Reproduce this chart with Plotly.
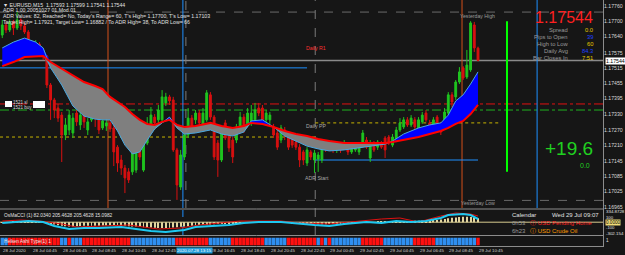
import plotly.graph_objects as go

W, H = 625, 255
FONT = "Liberation Sans, Arial, sans-serif"

# ---------------- data ----------------
bars = list(range(129))   # 15-minute bars, bar 0 = 28 Jul 02:45
opens = [1.17645, 1.17685, 1.17665, 1.17697, 1.17673, 1.17705, 1.17681, 1.17657, 1.17586, 1.17602,
         1.17609, 1.17586, 1.17562, 1.17447, 1.17388, 1.17356, 1.17328, 1.17249, 1.17269, 1.17257,
         1.17336, 1.17289, 1.17328, 1.17269, 1.17309, 1.17356, 1.17328, 1.17277, 1.17285, 1.17297,
         1.17277, 1.17201, 1.17150, 1.17118, 1.17103, 1.17103, 1.17110, 1.17209, 1.17110, 1.17217,
         1.17269, 1.17320, 1.17309, 1.17309, 1.17376, 1.17400, 1.17388, 1.17190, 1.17043, 1.17162,
         1.17249, 1.17316, 1.17309, 1.17336, 1.17289, 1.17309, 1.17408, 1.17320, 1.17217, 1.17150,
         1.17297, 1.17257, 1.17229, 1.17229, 1.17269, 1.17320, 1.17293, 1.17297, 1.17309, 1.17356,
         1.17356, 1.17309, 1.17309, 1.17281, 1.17257, 1.17229, 1.17269, 1.17241, 1.17237, 1.17221,
         1.17201, 1.17182, 1.17138, 1.17182, 1.17150, 1.17154, 1.17150, 1.17217, 1.17198, 1.17201,
         1.17190, 1.17209, 1.17198, 1.17201, 1.17182, 1.17190, 1.17182, 1.17209, 1.17229, 1.17158,
         1.17217, 1.17201, 1.17217, 1.17237, 1.17241, 1.17209, 1.17229, 1.17269, 1.17281, 1.17309,
         1.17289, 1.17309, 1.17277, 1.17301, 1.17336, 1.17297, 1.17289, 1.17320, 1.17289, 1.17301,
         1.17336, 1.17408, 1.17400, 1.17459, 1.17515, 1.17479, 1.17507, 1.17685, 1.17593]
highs = [1.17705, 1.17697, 1.17707, 1.17705, 1.17736, 1.17711, 1.17697, 1.17665, 1.17609, 1.17625,
         1.17617, 1.17594, 1.17566, 1.17455, 1.17396, 1.17372, 1.17340, 1.17316, 1.17348, 1.17336,
         1.17348, 1.17348, 1.17340, 1.17316, 1.17376, 1.17368, 1.17340, 1.17328, 1.17316, 1.17312,
         1.17289, 1.17209, 1.17170, 1.17130, 1.17118, 1.17190, 1.17229, 1.17217, 1.17229, 1.17320,
         1.17360, 1.17332, 1.17368, 1.17427, 1.17416, 1.17408, 1.17400, 1.17198, 1.17190, 1.17269,
         1.17356, 1.17328, 1.17348, 1.17348, 1.17356, 1.17427, 1.17419, 1.17328, 1.17229, 1.17277,
         1.17309, 1.17269, 1.17241, 1.17293, 1.17340, 1.17332, 1.17356, 1.17368, 1.17376, 1.17376,
         1.17368, 1.17348, 1.17340, 1.17293, 1.17269, 1.17289, 1.17281, 1.17253, 1.17249, 1.17229,
         1.17213, 1.17190, 1.17201, 1.17190, 1.17190, 1.17182, 1.17229, 1.17229, 1.17229, 1.17209,
         1.17217, 1.17217, 1.17229, 1.17209, 1.17209, 1.17217, 1.17209, 1.17269, 1.17241, 1.17229,
         1.17225, 1.17229, 1.17225, 1.17245, 1.17249, 1.17253, 1.17281, 1.17316, 1.17320, 1.17320,
         1.17328, 1.17320, 1.17320, 1.17340, 1.17348, 1.17309, 1.17320, 1.17328, 1.17301, 1.17356,
         1.17419, 1.17419, 1.17467, 1.17518, 1.17522, 1.17586, 1.17700, 1.17697, 1.17599]
lows = [1.17633, 1.17653, 1.17657, 1.17645, 1.17665, 1.17665, 1.17649, 1.17578, 1.17566, 1.17578,
        1.17574, 1.17546, 1.17435, 1.17309, 1.17316, 1.17301, 1.17142, 1.17229, 1.17249, 1.17237,
        1.17285, 1.17269, 1.17277, 1.17249, 1.17301, 1.17281, 1.17253, 1.17269, 1.17265, 1.17261,
        1.17126, 1.17103, 1.17091, 1.17019, 1.17059, 1.17091, 1.17099, 1.17150, 1.17103, 1.17209,
        1.17257, 1.17269, 1.17289, 1.17301, 1.17364, 1.17368, 1.17182, 1.16992, 1.17031, 1.17150,
        1.17237, 1.17269, 1.17293, 1.17281, 1.17269, 1.17301, 1.17309, 1.17150, 1.17083, 1.17142,
        1.17229, 1.17182, 1.17138, 1.17217, 1.17257, 1.17257, 1.17281, 1.17285, 1.17301, 1.17324,
        1.17301, 1.17293, 1.17293, 1.17237, 1.17190, 1.17217, 1.17229, 1.17190, 1.17198, 1.17190,
        1.17122, 1.17130, 1.17126, 1.17150, 1.17099, 1.17103, 1.17138, 1.17182, 1.17190, 1.17178,
        1.17178, 1.17178, 1.17190, 1.17170, 1.17174, 1.17182, 1.17170, 1.17201, 1.17194, 1.17142,
        1.17182, 1.17190, 1.17194, 1.17158, 1.17209, 1.17201, 1.17221, 1.17261, 1.17273, 1.17281,
        1.17281, 1.17273, 1.17269, 1.17293, 1.17301, 1.17269, 1.17281, 1.17269, 1.17249, 1.17293,
        1.17328, 1.17360, 1.17388, 1.17451, 1.17467, 1.17471, 1.17499, 1.17578, 1.17541]
closes = [1.17685, 1.17665, 1.17697, 1.17673, 1.17705, 1.17681, 1.17657, 1.17586, 1.17602, 1.17609,
          1.17586, 1.17562, 1.17447, 1.17388, 1.17348, 1.17316, 1.17249, 1.17289, 1.17328, 1.17316,
          1.17301, 1.17328, 1.17301, 1.17301, 1.17356, 1.17320, 1.17269, 1.17305, 1.17297, 1.17273,
          1.17182, 1.17138, 1.17118, 1.17079, 1.17071, 1.17178, 1.17209, 1.17162, 1.17217, 1.17257,
          1.17328, 1.17297, 1.17348, 1.17400, 1.17400, 1.17384, 1.17190, 1.17051, 1.17170, 1.17249,
          1.17316, 1.17281, 1.17336, 1.17297, 1.17336, 1.17416, 1.17320, 1.17162, 1.17150, 1.17257,
          1.17237, 1.17198, 1.17162, 1.17281, 1.17320, 1.17269, 1.17336, 1.17336, 1.17348, 1.17336,
          1.17309, 1.17336, 1.17328, 1.17249, 1.17201, 1.17277, 1.17249, 1.17201, 1.17209, 1.17201,
          1.17150, 1.17150, 1.17190, 1.17162, 1.17178, 1.17170, 1.17217, 1.17198, 1.17221, 1.17190,
          1.17209, 1.17190, 1.17217, 1.17182, 1.17201, 1.17209, 1.17201, 1.17257, 1.17201, 1.17217,
          1.17190, 1.17221, 1.17201, 1.17190, 1.17217, 1.17241, 1.17269, 1.17297, 1.17309, 1.17289,
          1.17316, 1.17281, 1.17309, 1.17328, 1.17309, 1.17277, 1.17309, 1.17281, 1.17261, 1.17340,
          1.17408, 1.17380, 1.17459, 1.17499, 1.17475, 1.17526, 1.17693, 1.17594, 1.17544]

# cloud indicator (fast / slow lines) read at sample bars
cloud_bars = [0, 3, 6, 9, 11, 13, 16, 19, 22, 25, 27, 29, 31, 33, 35, 37, 39, 41, 43, 45, 47, 49, 52, 56, 59,
              62, 65, 67, 70, 73, 76, 79, 82, 85, 88, 92, 96, 100, 103, 105, 108, 112, 115, 118, 120, 122,
              124, 126, 128]
slow_line = [1.17522, 1.17538, 1.17558, 1.17560, 1.17562, 1.17538, 1.17511, 1.17487, 1.17459, 1.17443,
             1.17431, 1.17400, 1.17380, 1.17360, 1.17332, 1.17309, 1.17293, 1.17289, 1.17301, 1.17309,
             1.17289, 1.17281, 1.17285, 1.17297, 1.17285, 1.17277, 1.17285, 1.17297, 1.17293, 1.17281,
             1.17265, 1.17253, 1.17245, 1.17233, 1.17225, 1.17217, 1.17217, 1.17217, 1.17217, 1.17221,
             1.17229, 1.17241, 1.17253, 1.17265, 1.17277, 1.17293, 1.17305, 1.17332, 1.17368]
fast_line = [1.17594, 1.17617, 1.17633, 1.17617, 1.17594, 1.17515, 1.17447, 1.17364, 1.17324, 1.17312,
             1.17309, 1.17309, 1.17265, 1.17209, 1.17174, 1.17182, 1.17229, 1.17273, 1.17297, 1.17320,
             1.17277, 1.17253, 1.17257, 1.17269, 1.17253, 1.17245, 1.17261, 1.17305, 1.17309, 1.17281,
             1.17245, 1.17225, 1.17205, 1.17194, 1.17186, 1.17190, 1.17198, 1.17205, 1.17213, 1.17225,
             1.17253, 1.17277, 1.17289, 1.17297, 1.17328, 1.17384, 1.17408, 1.17451, 1.17499]

# OsMA / CCI sub-window
cci_bars = [0, 5, 7, 11, 14, 18, 22, 26, 32, 36, 40, 44, 49, 52, 56, 61, 65, 69, 75, 80, 84, 88, 92,
            98, 102, 106, 110, 114, 118, 120, 124, 126, 128]
cci_main = [-21, 5, 31, 5, -99, -177, -151, -151, -125, -177, -229, -255, -203, -125, -99, -73, -21, 5,
            5, -47, -73, -99, -47, 5, -21, 31, 5, 31, 109, 187, 213, 187, 83]
sig_bars = [0, 5, 10, 16, 20, 26, 34, 42, 48, 53, 64, 75, 80, 88, 96, 102, 107, 112, 118, 122, 126, 128]
cci_signal = [31, 57, 31, -47, -125, -99, -73, -177, -151, -73, 31, 31, -21, -47, 31, 83, 109, 5, 161,
              239, 213, 161]
osma_hist = [-10, -5, 5, 10, 15, 15, 20, 20, 15, 10,
             5, 0, -20, -40, -60, -80, -95, -105, -110, -110,
             -105, -100, -95, -90, -90, -90, -90, -85, -85, -80,
             -80, -80, -85, -95, -105, -110, -115, -120, -130, -135,
             -140, -145, -150, -150, -150, -145, -140, -130, -120, -115,
             -105, -95, -85, -75, -70, -65, -60, -55, -50, -45,
             -40, -35, -30, -25, -20, -15, -10, -5, 0, 5,
             5, 5, 5, 0, -5, -10, -15, -20, -25, -30,
             -35, -40, -45, -50, -55, -55, -55, -55, -50, -45,
             -40, -35, -30, -25, -20, -15, -10, -5, 0, 5,
             5, 10, 10, 15, 15, 20, 20, 25, 25, 30,
             30, 35, 35, 40, 45, 50, 55, 60, 70, 85,
             100, 115, 125, 135, 140, 140, 135, 125, 100]

# Heiken Ashi direction per bar (b = bullish, r = bearish)
ha_dir = ("bb" + "r" * 14 + "bb" + "r" + "bbb" + "r" * 13 + "b" * 12 + "r" * 9 + "b" * 6 + "r" * 9
          + "b" * 6 + "r" * 8 + "brbrb" + "b" * 7 + "r" * 6 + "b" * 8 + "r" * 6 + "b" * 11 + "r")

# levels
yesterday_high = 1.17736
yesterday_low = 1.16990
bid = 1.17544
adr_line_prev = 1.17515
adr_line_today = 1.17150
sl_level = 1.17372
buy_level = 1.17348
pivot_prev = 1.17241
daily_pp = 1.17297
today_high = 1.17700
today_low = 1.17103
day_start_bar = 84.2
event_bars_orange = [28.45, 123.7]
event_bars_blue = [48.6, 143.9]
crosshair_bar = 49.4
range_bar = 135.8

price_ticks = [1.17760, 1.17700, 1.17640, 1.17575, 1.17515, 1.17455, 1.17395, 1.17330, 1.17270,
               1.17210, 1.17145, 1.17085, 1.17025, 1.16965]
time_label_bars = [0, 8, 16, 24, 32, 40, 56, 64, 72, 80, 88, 96, 104, 112, 120, 128]
time_labels = ["28 Jul 2020", "28 Jul 04:45", "28 Jul 06:45", "28 Jul 08:45", "28 Jul 10:45",
               "28 Jul 12:45", "28 Jul 16:45", "28 Jul 18:45", "28 Jul 20:45", "28 Jul 22:45",
               "29 Jul 00:45", "29 Jul 02:45", "29 Jul 04:45", "29 Jul 06:45", "29 Jul 08:45",
               "29 Jul 10:45"]

# ---------------- figure ----------------
def px(x):
    return x / W


def py(y):
    return 1 - y / H


XDOM = [0, 603 / W]
BG = "#161616"

fig = go.Figure()

lo = [min(f, s) for f, s in zip(fast_line, slow_line)]
hi = [max(f, s) for f, s in zip(fast_line, slow_line)]
common = dict(mode="lines", showlegend=False, hoverinfo="skip")
fig.add_trace(go.Scatter(x=cloud_bars, y=slow_line, line=dict(width=0, color="#7f7f7f"), **common))
fig.add_trace(go.Scatter(x=cloud_bars, y=lo, line=dict(width=0, color="#7f7f7f"), fill="tonexty",
                         fillcolor="#7f7f7f", **common))
fig.add_trace(go.Scatter(x=cloud_bars, y=slow_line, line=dict(width=0, color="#0000ff"), **common))
fig.add_trace(go.Scatter(x=cloud_bars, y=hi, line=dict(width=0, color="#0000ff"), fill="tonexty",
                         fillcolor="#0000ff", **common))
fig.add_trace(go.Scatter(x=cloud_bars, y=fast_line, line=dict(width=1, color="#4aa8e0"), **common))
fig.add_trace(go.Scatter(x=cloud_bars, y=slow_line, line=dict(width=2, color="#ff0000"), **common))

fig.add_trace(go.Candlestick(
    x=bars, open=opens, high=highs, low=lows, close=closes,
    increasing=dict(line=dict(color="#1fc41f", width=1), fillcolor="#1fc41f"),
    decreasing=dict(line=dict(color="#d81010", width=1), fillcolor="#d81010"),
    showlegend=False, hoverinfo="skip", whiskerwidth=0))

# sub-window 1: OsMA CCI
fig.add_trace(go.Bar(x=bars, y=osma_hist, width=0.25, marker=dict(color="#e2d6a0", line=dict(width=0)),
                     xaxis="x2", yaxis="y2", showlegend=False, hoverinfo="skip"))
fig.add_trace(go.Scatter(x=sig_bars, y=cci_signal, line=dict(width=1, color="#e01010"),
                         xaxis="x2", yaxis="y2", **common))
fig.add_trace(go.Scatter(x=cci_bars, y=cci_main, line=dict(width=2, color="#1ec8f0"),
                         xaxis="x2", yaxis="y2", **common))

# sub-window 2: Heiken Ashi strip
ha_colors = ["#2f8ff0" if c == "b" else "#ff1010" for c in ha_dir]
fig.add_trace(go.Bar(x=bars, y=[1] * len(bars), width=0.92, marker=dict(color=ha_colors, line=dict(width=0)),
                     xaxis="x3", yaxis="y3", showlegend=False, hoverinfo="skip"))

shapes = []


def hline(yv, x0=None, x1=None, color="#888", width=1, dash="solid", yref="y"):
    if x0 is None:
        shapes.append(dict(type="line", xref="paper", x0=XDOM[0], x1=XDOM[1], yref=yref, y0=yv, y1=yv,
                           line=dict(color=color, width=width, dash=dash), layer="below"))
    else:
        shapes.append(dict(type="line", xref="x", x0=x0, x1=x1, yref=yref, y0=yv, y1=yv,
                           line=dict(color=color, width=width, dash=dash), layer="below"))


def vline(xv, ytop, ybot, color, width=1, dash="solid", layer="below"):
    shapes.append(dict(type="line", xref="x", x0=xv, x1=xv, yref="paper", y0=py(ybot), y1=py(ytop),
                       line=dict(color=color, width=width, dash=dash), layer=layer))


hline(yesterday_high, color="#6a6a6a", dash="dash")
hline(yesterday_low, color="#6a6a6a", dash="dash")
hline(sl_level, color="#e01010", dash="dashdot")
hline(buy_level, color="#20b020", dash="dashdot")
hline(pivot_prev, -0.6, day_start_bar, color="#c8b400", dash="dot")
hline(daily_pp, day_start_bar, 134, color="#c8b400", dash="dot")
hline(adr_line_prev, -0.6, 82, color="#1e90ff", width=1)
hline(adr_line_today, day_start_bar, 128, color="#1e90ff", width=1)
hline(bid, color="#8a8a8a", width=1.5)

for b in event_bars_orange:
    vline(b, 0, 208, "#d4501a", 1)
vline(event_bars_blue[0], 0, 208, "#1e90ff", 1)
vline(event_bars_blue[0], 210, 235, "#1e90ff", 1, "dash")
vline(event_bars_blue[1], 0, 208, "#1e90ff", 1)
vline(crosshair_bar, 0, 208, "#7a7a7a", 1, "dash")
vline(day_start_bar, 0, 235, "#7a7a7a", 1, "dash")
shapes.append(dict(type="line", xref="x", x0=range_bar, x1=range_bar, yref="y", y0=today_low, y1=today_high,
                   line=dict(color="#00ff00", width=2)))

# CCI zero line
hline(0, color="#d8cc90", width=1, yref="y2")

# window separators / borders
for yy in (209, 235.5, 246.5):
    shapes.append(dict(type="line", xref="paper", x0=0, x1=px(604), yref="paper", y0=py(yy), y1=py(yy),
                       line=dict(color="#8c8c8c", width=1)))
shapes.append(dict(type="line", xref="paper", x0=px(603.5), x1=px(603.5), yref="paper", y0=py(247), y1=1,
                   line=dict(color="#8c8c8c", width=1)))

# trade label boxes at left
shapes.append(dict(type="rect", xref="paper", yref="paper", x0=px(5), x1=px(12), y0=py(107), y1=py(101),
                   fillcolor="#ffffff", line=dict(width=0)))
shapes.append(dict(type="rect", xref="paper", yref="paper", x0=px(33), x1=px(45), y0=py(108), y1=py(101),
                   fillcolor="#ffffff", line=dict(width=0)))

annotations = []


def txt(x, y, s, size=5.2, color="#e0e0e0", anchor="left", bg=None, xref="paper"):
    a = dict(x=px(x) if xref == "paper" else x, y=py(y), xref=xref, yref="paper", text=s, showarrow=False,
             xanchor=anchor, yanchor="middle", font=dict(family=FONT, size=size, color=color),
             borderpad=0)
    if bg:
        a["bgcolor"] = bg
    annotations.append(a)


# header texts
txt(2, 4.7, "▼ EURUSD,M15  1.17593 1.17599 1.17541 1.17544")
txt(2, 10.5, "ADR 1.00 20051027 01.Mod.01")
txt(2, 16, "ADR Values: 82, Reached= No, Today's Range= 60, T's High= 1.17700, T's Low= 1.17103")
txt(2, 21.5, "Target High= 1.17921, Target Low= 1.16882 / To ADR High= 38, To ADR Low= 66")

# level labels
txt(496, 16, "Yesterday High", 5.2, "#9a9a9a", "right")
txt(496, 203, "Yesterday Low", 5.2, "#9a9a9a", "right")
txt(305, 48, "Daily R1", 5.2, "#ff3030")
txt(305, 126, "Daily PP", 5.2, "#a8a8a8")
txt(304, 177.5, "ADR Start", 5.2, "#a8a8a8")
txt(12, 102, "1521 sl", 4.5, "#d8d8d8")
txt(12, 107, "1521 buy", 4.5, "#d8d8d8")

# info panel
txt(594, 17.5, "1.17544", 16, "#ff2020", "right")
rows = [("Spread", "0.0", "#e6c800"), ("Pips to Open", "39", "#2040ff"), ("High to Low", "60", "#e6c800"),
        ("Daily Avg", "84.3", "#2040ff"), ("Bar Closes In", "7:51", "#e6c800")]
for k, (lab, val, col) in enumerate(rows):
    yy = 29.5 + k * 7.2
    txt(569, yy, lab, 5.8, "#9a9a9a", "right")
    txt(594, yy, val, 5.8, col, "right")
txt(594, 148, "+19.6", 19, "#20d020", "right")
txt(591, 165, "0.0", 7, "#20d020", "right")

# calendar panel
txt(511, 215, "Calendar", 6, "#e0e0e0")
txt(600, 215, "Wed 29 Jul 09:07", 6, "#e0e0e0", "right")
txt(511, 223, "0h53", 6, "#9a9a9a")
txt(529, 223, "ⓘ USD Pending Home", 6, "#ff2020")
txt(511, 231, "6h23", 6, "#9a9a9a")
txt(529, 231, "ⓘ USD Crude Oil", 6, "#ff9a00")

# sub-window titles
txt(3, 215, "OsMaCCI (1) 82.0340 205.4628 205.4628 15.0982", 4.8, "#e0e0e0")
txt(3, 241, "Heiken Ashi Type(1) 1", 4.8, "#e8e8e8")

# axis boxes on the right
txt(605, 61, "1.17544", 5.2, "#000000", "left", "#ffffff")
txt(605, 211.5, "334.8728", 4.4, "#e0e0e0")
txt(605, 217, "100", 4.2, "#e0e0e0")
txt(605, 222.4, "0.0000", 4.6, "#000000", "left", "#f0dc78")
txt(605, 227.8, "-100", 4.2, "#e0e0e0")
txt(605, 233, "-302.154", 4.4, "#e0e0e0")
txt(605, 240.5, "1", 4.6, "#e0e0e0")

# time axis labels
for b, s in zip(time_label_bars, time_labels):
    txt(b, 250.5, s, 4.4, "#d0d0d0", "left", xref="x")
txt(194, 250.5, "2020.07.28 13:15", 4.4, "#ffffff", "center", "#1f9bd8")

fig.update_layout(
    width=W, height=H, margin=dict(l=0, r=0, t=0, b=0), template="none",
    paper_bgcolor=BG, plot_bgcolor=BG, showlegend=False, hovermode=False, barmode="overlay",
    xaxis=dict(domain=XDOM, range=[-0.611, 161.63], visible=False, anchor="y",
               rangeslider=dict(visible=False), fixedrange=True),
    xaxis2=dict(domain=XDOM, matches="x", anchor="y2", visible=False),
    xaxis3=dict(domain=XDOM, matches="x", anchor="y3", visible=False),
    yaxis=dict(domain=[1 - 208 / H, 1], range=[1.169599, 1.177838], side="right", anchor="x",
               tickvals=price_ticks, ticktext=[f"{v:.5f}" for v in price_ticks],
               tickfont=dict(family=FONT, size=5.2, color="#d8d8d8"), showgrid=False, zeroline=False,
               showline=False, ticks="", automargin=False),
    yaxis2=dict(domain=[1 - 234 / H, 1 - 210 / H], range=[-307, 317], visible=False, anchor="x2"),
    yaxis3=dict(domain=[1 - 245.5 / H, 1 - 237.5 / H], range=[0, 1], visible=False, anchor="x3"),
    shapes=shapes, annotations=annotations,
)

fig.write_html("out.html")
